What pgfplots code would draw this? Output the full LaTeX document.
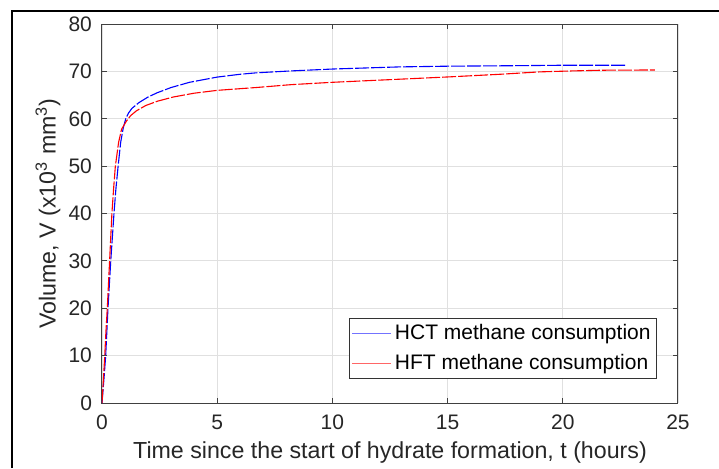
\documentclass[border=0pt]{standalone}
\usepackage{fontspec}
\setmainfont{Liberation Sans}
\usepackage{pgfplots}
\pgfplotsset{compat=1.18}
\begin{document}
\begin{tikzpicture}
\useasboundingbox (0,0) rectangle (359.5pt,-234pt);
\draw[line width=1.1pt] (6pt,-234pt) -- (6pt,-5.5pt) -- (359.5pt,-5.5pt);
\begin{axis}[
  scale only axis, width=288pt, height=189.5pt,
  at={(51pt,-201.5pt)}, anchor=south west,
  xmin=0, xmax=25, ymin=0, ymax=80,
  xtick={0,5,...,25}, ytick={0,10,...,80},
  grid=major, major grid style={black!12, line width=0.4pt},
  axis line style={black!75, line width=0.5pt},
  tick style={black!75, line width=0.5pt},
  tick align=inside, major tick length=2.5pt,
  ticklabel style={font=\fontsize{10.5}{12}\selectfont, text=black!85},
  xticklabel style={yshift=-2.5pt},
  yticklabel style={xshift=-1.5pt},
  /pgf/number format/assume math mode=true,
  xlabel={Time since the start of hydrate formation, t (hours)},
  ylabel={Volume, V (x10\textsuperscript{3} mm\textsuperscript{3})},
  label style={font=\fontsize{11.6}{13}\selectfont, text=black!85},
  xlabel style={at={(axis description cs:0.5,-0.1293)}, anchor=center},
  ylabel style={at={(axis description cs:-0.0938,0.5)}, anchor=center},
  legend style={at={(0.9635,0.0633)}, anchor=south east, draw=black!80, line width=0.4pt,
    font=\fontsize{10.5}{12}\selectfont, inner xsep=1.5pt, inner ysep=1.5pt, row sep=3pt,
    nodes={inner sep=1.5pt}},
  legend cell align=left,
]
\addplot[blue, line width=0.55pt, dash pattern=on 7pt off 1pt,
  legend image code/.code={\draw[solid, blue!55, line width=0.5pt] (0pt,0pt) -- (19.5pt,0pt);}] coordinates {
(0,0) (0.05,3) (0.1,6) (0.16,10) (0.21,15) (0.26,20) (0.32,25) (0.38,30) (0.45,35)
(0.52,40) (0.6,45) (0.70,50) (0.81,55) (0.92,58) (1.03,60) (1.15,61.2) (1.3,62.2) (1.6,63.4)
(2.0,64.6) (2.4,65.5) (3.0,66.6) (3.8,67.7) (5,68.8) (6,69.4) (6.7,69.7) (8.2,70.1)
(10,70.5) (12.9,70.95) (15,71.1) (17.8,71.2) (20,71.3) (22.77,71.3)
};
\addlegendentry{HCT methane consumption}
\addplot[red, line width=0.55pt, dash pattern=on 7pt off 1pt,
  legend image code/.code={\draw[solid, red!60, line width=0.5pt] (0pt,0pt) -- (19.5pt,0pt);}] coordinates {
(0,0) (0.05,4) (0.12,10) (0.17,15) (0.23,20) (0.28,25) (0.33,30) (0.38,35) (0.43,40)
(0.5,45) (0.58,50) (0.72,55) (0.85,57.8) (1.06,59.5) (1.25,60.7) (1.5,61.7) (1.9,62.8) (2.4,63.7)
(3.1,64.6) (4,65.4) (5,66.0) (6.7,66.6) (8.2,67.2) (10,67.7) (12.9,68.35) (15.1,68.85)
(17.3,69.4) (19,69.9) (20.4,70.1) (21.7,70.25) (24,70.3)
};
\addlegendentry{HFT methane consumption}
\end{axis}
\end{tikzpicture}
\end{document}
